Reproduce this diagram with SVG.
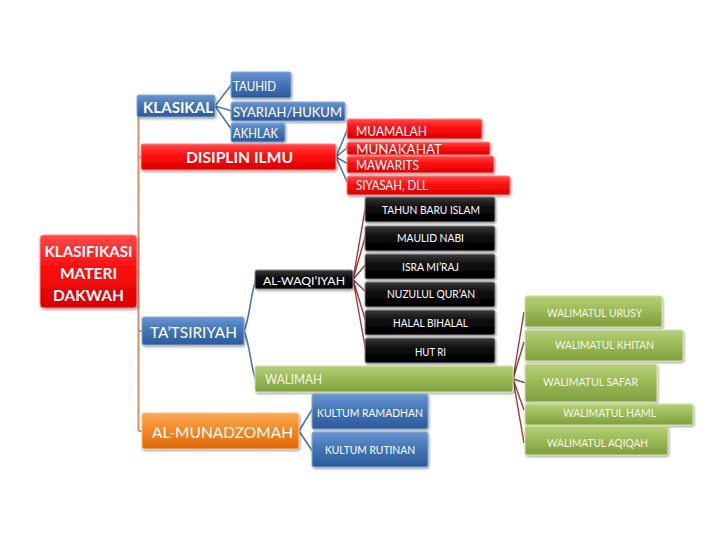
<svg xmlns="http://www.w3.org/2000/svg" width="728" height="546" viewBox="0 0 728 546">
<defs>
<linearGradient id="gBlue" x1="0" y1="0" x2="0" y2="1"><stop offset="0" stop-color="#6a96d0"/><stop offset="0.45" stop-color="#4476b8"/><stop offset="1" stop-color="#2c5a98"/></linearGradient>
<linearGradient id="gRed" x1="0" y1="0" x2="0" y2="1"><stop offset="0" stop-color="#ff4a4a"/><stop offset="0.45" stop-color="#ff0d0d"/><stop offset="1" stop-color="#d80000"/></linearGradient>
<linearGradient id="gBlack" x1="0" y1="0" x2="0" y2="1"><stop offset="0" stop-color="#3a3a3a"/><stop offset="0.45" stop-color="#0a0a0a"/><stop offset="1" stop-color="#000"/></linearGradient>
<linearGradient id="gGreen" x1="0" y1="0" x2="0" y2="1"><stop offset="0" stop-color="#b6d07a"/><stop offset="0.45" stop-color="#9bbb59"/><stop offset="1" stop-color="#7f9f3e"/></linearGradient>
<linearGradient id="gOrange" x1="0" y1="0" x2="0" y2="1"><stop offset="0" stop-color="#fbab5c"/><stop offset="0.45" stop-color="#f58a26"/><stop offset="1" stop-color="#dc6a0a"/></linearGradient>
<filter id="sh" x="-10%" y="-20%" width="120%" height="150%"><feDropShadow dx="1" dy="1.5" stdDeviation="1" flood-color="#000" flood-opacity="0.35"/></filter>
</defs>
<style>
.box{filter:url(#sh);stroke-width:1}
.blue{fill:url(#gBlue);stroke:#86a9d8}
.red{fill:url(#gRed);stroke:#ff8c8c}
.black{fill:url(#gBlack);stroke:#8a8a8a}
.green{fill:url(#gGreen);stroke:#d2e3a8}
.orange{fill:url(#gOrange);stroke:#fcc28a}
text{font-family:Lato,"Open Sans","Liberation Sans",sans-serif;fill:#fff}
.bd{font-weight:bold}
.lg{fill:#f6f7e6}
.cb{fill:none;stroke:#4f74a6;stroke-width:1.6}
.cr{fill:none;stroke:#9a3c3c;stroke-width:1.4}
.ct{fill:none;stroke:#cc9468;stroke-width:2}
</style>
<g id="connectors">
<path class="ct" d="M138.5,106 V431 M137,272 H139 M138.5,157 H141 M138.5,331 H142 M138.5,431 H142"/>
<path class="cb" d="M215,106 L232,84 M215,106 L232,111 M215,106 L232,130"/>
<path class="cb" d="M336,157 L348,128 M336,157 L348,147 M336,157 L348,164 M336,157 L348,184"/>
<path class="cr" d="M353,279.5 L366,204 M353,279.5 L366,234 M353,279.5 L366,264 M353,279.5 L366,292 M353,279.5 L366,322 M353,279.5 L366,352"/>
<path class="cb" d="M244,331 C250,318 251,290 256,280 M244,331 C250,344 251,370 256,380"/>
<path class="cr" d="M513,379 L524,312 M513,379 L524,342 M513,379 L526,383 M513,379 L524,410 M513,379 L524,443"/>
<path class="cb" d="M299,431 L313,408 M299,431 L313,452"/>
</g>
<g id="root"><rect class="box red" x="40" y="235" width="97" height="73" rx="4"/>
<text class="bd" x="88.5" y="257" font-size="15.5" text-anchor="middle" textLength="88" lengthAdjust="spacingAndGlyphs">KLASIFIKASI</text>
<text class="bd" x="88.5" y="279" font-size="15.5" text-anchor="middle">MATERI</text>
<text class="bd" x="88.5" y="301" font-size="15.5" text-anchor="middle">DAKWAH</text></g>
<g id="klasikal"><rect class="box blue" x="137" y="95" width="78" height="22" rx="2"/><text class="bd" x="143" y="113" font-size="15" textLength="70" lengthAdjust="spacingAndGlyphs">KLASIKAL</text></g>
<g id="tauhid"><rect class="box blue" x="231" y="72" width="60" height="26" rx="2"/><text x="233" y="91" font-size="13" textLength="43" lengthAdjust="spacingAndGlyphs">TAUHID</text></g>
<g id="syariah"><rect class="box blue" x="231" y="102" width="114" height="19" rx="2"/><text x="233" y="117" font-size="13" textLength="109" lengthAdjust="spacingAndGlyphs">SYARIAH/HUKUM</text></g>
<g id="akhlak"><rect class="box blue" x="231" y="123" width="54" height="19" rx="2"/><text x="233" y="138" font-size="13" textLength="45" lengthAdjust="spacingAndGlyphs">AKHLAK</text></g>
<g id="disiplin"><rect class="box red" x="141" y="144" width="195" height="26" rx="2"/><text class="bd" x="186" y="163" font-size="15" textLength="107" lengthAdjust="spacingAndGlyphs">DISIPLIN ILMU</text></g>
<g id="muamalah"><rect class="box red" x="347" y="119" width="135" height="20" rx="2"/><text x="356" y="136" font-size="12.5" textLength="71" lengthAdjust="spacingAndGlyphs">MUAMALAH</text></g>
<g id="munakahat"><rect class="box red" x="347" y="142" width="143" height="13" rx="2"/><text x="356" y="154" font-size="14" textLength="86" lengthAdjust="spacingAndGlyphs">MUNAKAHAT</text></g>
<g id="mawarits"><rect class="box red" x="347" y="156" width="147" height="17" rx="2"/><text x="356" y="170" font-size="12.5" textLength="63" lengthAdjust="spacingAndGlyphs">MAWARITS</text></g>
<g id="siyasah"><rect class="box red" x="347" y="176" width="163" height="19" rx="2"/><text x="356" y="190" font-size="12.5" textLength="72" lengthAdjust="spacingAndGlyphs">SIYASAH, DLL</text></g>
<g id="tahun-baru"><rect class="box black" x="365" y="197" width="130" height="25" rx="2"/><text x="382" y="214" font-size="10.5" textLength="98" lengthAdjust="spacingAndGlyphs">TAHUN BARU ISLAM</text></g>
<g id="maulid"><rect class="box black" x="365" y="226" width="130" height="25" rx="2"/><text x="397" y="242" font-size="10.5" textLength="67" lengthAdjust="spacingAndGlyphs">MAULID NABI</text></g>
<g id="isra"><rect class="box black" x="365" y="254" width="130" height="25" rx="2"/><text x="402" y="271" font-size="10.5" textLength="57" lengthAdjust="spacingAndGlyphs">ISRA MI’RAJ</text></g>
<g id="nuzulul"><rect class="box black" x="365" y="282" width="130" height="25" rx="2"/><text x="387" y="298" font-size="10.5" textLength="88" lengthAdjust="spacingAndGlyphs">NUZULUL QUR’AN</text></g>
<g id="halal"><rect class="box black" x="365" y="310" width="130" height="25" rx="2"/><text x="393" y="327" font-size="10.5" textLength="75" lengthAdjust="spacingAndGlyphs">HALAL BIHALAL</text></g>
<g id="hut-ri"><rect class="box black" x="365" y="338" width="130" height="25" rx="2"/><text x="415" y="356" font-size="10.5" textLength="31" lengthAdjust="spacingAndGlyphs">HUT RI</text></g>
<g id="al-waqiiyah"><rect class="box black" x="255" y="270" width="98" height="19" rx="2"/><text x="263" y="285" font-size="12" textLength="82" lengthAdjust="spacingAndGlyphs">AL-WAQI’IYAH</text></g>
<g id="tatsiriyah"><rect class="box blue" x="142" y="317" width="102" height="28" rx="2"/><text x="150" y="338" font-size="15" textLength="87" lengthAdjust="spacingAndGlyphs">TA’TSIRIYAH</text></g>
<g id="walimah"><rect class="box green" x="255" y="366" width="258" height="26" rx="2"/><text class="lg" x="265" y="384" font-size="12.5" textLength="57" lengthAdjust="spacingAndGlyphs">WALIMAH</text></g>
<g id="urusy"><rect class="box green" x="525" y="296" width="137" height="31" rx="2"/><text class="lg" x="547" y="317" font-size="10.5" textLength="95" lengthAdjust="spacingAndGlyphs">WALIMATUL URUSY</text></g>
<g id="khitan"><rect class="box green" x="525" y="330" width="158" height="31" rx="2"/><text class="lg" x="555" y="349" font-size="10.5" textLength="99" lengthAdjust="spacingAndGlyphs">WALIMATUL KHITAN</text></g>
<g id="safar"><rect class="box green" x="525" y="364" width="132" height="38" rx="2"/><text class="lg" x="543" y="386" font-size="10.5" textLength="95" lengthAdjust="spacingAndGlyphs">WALIMATUL SAFAR</text></g>
<g id="haml"><rect class="box green" x="525" y="404" width="168" height="21" rx="2"/><text class="lg" x="563" y="417" font-size="10.5" textLength="93" lengthAdjust="spacingAndGlyphs">WALIMATUL HAML</text></g>
<g id="aqiqah"><rect class="box green" x="525" y="426" width="143" height="29" rx="2"/><text class="lg" x="547" y="447" font-size="10.5" textLength="101" lengthAdjust="spacingAndGlyphs">WALIMATUL AQIQAH</text></g>
<g id="al-munadzomah"><rect class="box orange" x="142" y="413" width="157" height="36" rx="2"/><text x="152" y="438" font-size="16" textLength="141" lengthAdjust="spacingAndGlyphs">AL-MUNADZOMAH</text></g>
<g id="kultum-ramadhan"><rect class="box blue" x="312" y="394" width="116" height="35" rx="2"/><text x="317" y="417" font-size="10.5" textLength="106" lengthAdjust="spacingAndGlyphs">KULTUM RAMADHAN</text></g>
<g id="kultum-rutinan"><rect class="box blue" x="312" y="432" width="116" height="35" rx="2"/><text x="325" y="454" font-size="10.5" textLength="90" lengthAdjust="spacingAndGlyphs">KULTUM RUTINAN</text></g>
</svg>
